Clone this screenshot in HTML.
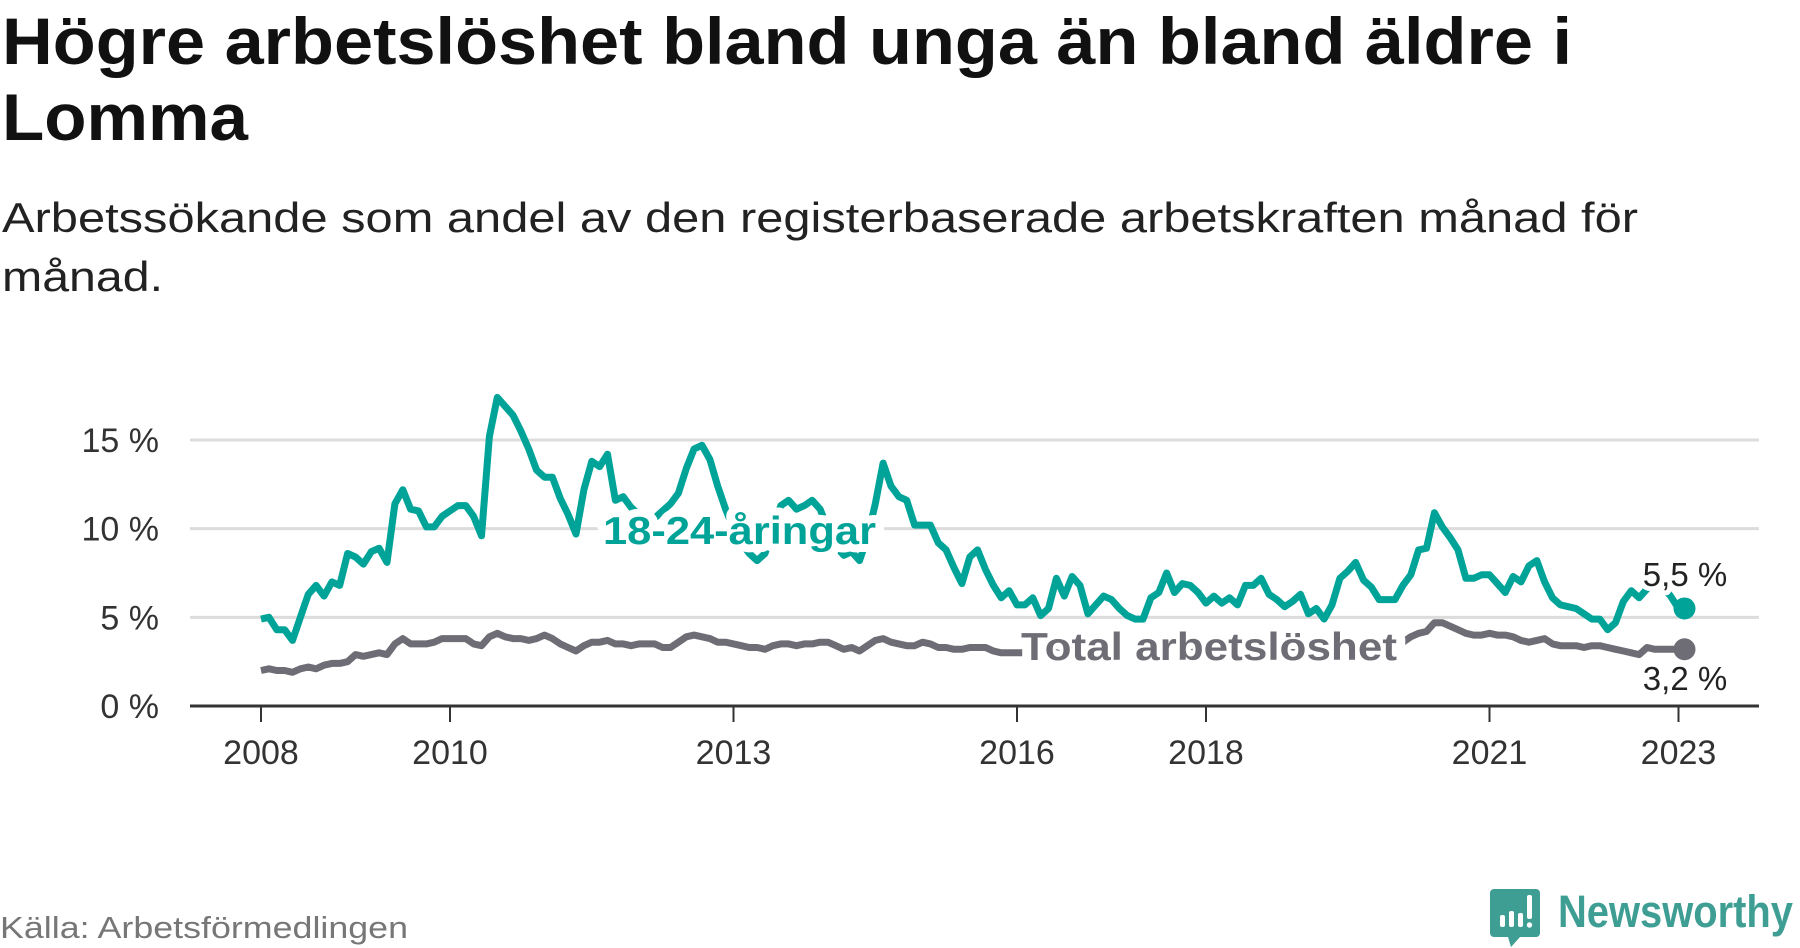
<!DOCTYPE html>
<html><head><meta charset="utf-8"><style>
html,body{margin:0;padding:0;background:#fff;}
svg{display:block;font-family:"Liberation Sans","DejaVu Sans",sans-serif;}
</style></head><body>
<svg id="chart" width="1800" height="948" viewBox="0 0 1800 948" xmlns="http://www.w3.org/2000/svg">
<text x="2" y="64" font-size="66" font-weight="bold" fill="#111" textLength="1570" lengthAdjust="spacingAndGlyphs">Högre arbetslöshet bland unga än bland äldre i</text>
<text x="2" y="140" font-size="66" font-weight="bold" fill="#111" textLength="246" lengthAdjust="spacingAndGlyphs">Lomma</text>
<text x="2" y="232" font-size="42" fill="#222" textLength="1636" lengthAdjust="spacingAndGlyphs">Arbetssökande som andel av den registerbaserade arbetskraften månad för</text>
<text x="2" y="291" font-size="42" fill="#222" textLength="161" lengthAdjust="spacingAndGlyphs">månad.</text>
<g id="grid"></g>
<g id="yticks"></g>
<g id="xticks"></g>
<g id="series"></g>
<text x="0" y="938" font-size="31" fill="#777" textLength="408" lengthAdjust="spacingAndGlyphs">Källa: Arbetsförmedlingen</text>
<g>
<path d="M1494 889 h42 a4 4 0 0 1 4 4 v40 a4 4 0 0 1 -4 4 h-16 l-9 10 l-3 -10 h-14 a4 4 0 0 1 -4 -4 v-40 a4 4 0 0 1 4 -4z" fill="#3f9e93"/>
<rect x="1500" y="915" width="5" height="12" rx="2" fill="#fff"/>
<rect x="1509" y="911" width="5" height="16" rx="2" fill="#fff"/>
<rect x="1518" y="913" width="5" height="14" rx="2" fill="#fff"/>
<rect x="1527" y="895" width="5" height="24" rx="2" fill="#fff"/>
<circle cx="1529.5" cy="925" r="2.7" fill="#fff"/>
<text x="1558" y="927" font-size="45" font-weight="bold" fill="#3f9e93" textLength="235" lengthAdjust="spacingAndGlyphs">Newsworthy</text>
</g>
</svg>
<script>
const youth = [
4.9,5.0,4.3,4.3,3.7,5.0,6.3,6.8,6.2,7.0,6.8,8.6,
8.4,8.0,8.7,8.9,8.1,11.4,12.2,11.1,11.0,10.1,10.1,10.7,
11.0,11.3,11.3,10.7,9.6,15.2,17.4,16.9,16.4,15.5,14.5,13.3,
12.9,12.9,11.7,10.8,9.7,12.2,13.8,13.5,14.2,11.6,11.8,11.2,
10.8,10.5,10.6,11.0,11.4,12.0,13.4,14.5,14.7,13.9,12.4,11.1,
10.0,9.2,8.6,8.2,8.6,10.0,11.3,11.6,11.1,11.3,11.6,11.1,
10.0,9.0,8.5,8.7,8.2,9.5,11.4,13.7,12.4,11.8,11.6,10.2,
10.2,10.2,9.2,8.8,7.8,6.9,8.4,8.8,7.7,6.8,6.1,6.5,
5.7,5.7,6.1,5.1,5.5,7.2,6.2,7.3,6.8,5.2,5.7,6.2,
6.0,5.5,5.1,4.9,4.9,6.1,6.4,7.5,6.4,6.9,6.8,6.4,
5.8,6.2,5.8,6.1,5.7,6.8,6.8,7.2,6.3,6.0,5.6,5.9,
6.3,5.2,5.5,4.9,5.7,7.2,7.6,8.1,7.1,6.7,6.0,6.0,
6.0,6.8,7.4,8.8,8.9,10.9,10.1,9.5,8.8,7.2,7.2,7.4,
7.4,6.9,6.4,7.3,7.0,7.9,8.2,7.0,6.1,5.7,5.6,5.5,
5.2,4.9,4.9,4.3,4.7,5.9,6.5,6.1,6.6,6.9,6.7,6.2,
5.5];
const total = [
2.0,2.1,2.0,2.0,1.9,2.1,2.2,2.1,2.3,2.4,2.4,2.5,
2.9,2.8,2.9,3.0,2.9,3.5,3.8,3.5,3.5,3.5,3.6,3.8,
3.8,3.8,3.8,3.5,3.4,3.9,4.1,3.9,3.8,3.8,3.7,3.8,
4.0,3.8,3.5,3.3,3.1,3.4,3.6,3.6,3.7,3.5,3.5,3.4,
3.5,3.5,3.5,3.3,3.3,3.6,3.9,4.0,3.9,3.8,3.6,3.6,
3.5,3.4,3.3,3.3,3.2,3.4,3.5,3.5,3.4,3.5,3.5,3.6,
3.6,3.4,3.2,3.3,3.1,3.4,3.7,3.8,3.6,3.5,3.4,3.4,
3.6,3.5,3.3,3.3,3.2,3.2,3.3,3.3,3.3,3.1,3.0,3.0,
3.0,3.0,2.9,3.0,3.1,3.0,2.9,3.0,3.0,3.1,3.0,3.0,
3.0,2.9,2.9,3.0,3.0,2.9,2.9,3.0,3.0,3.0,3.1,3.0,
3.0,3.0,3.0,3.0,3.1,3.0,3.0,3.1,3.1,3.1,3.1,3.1,
3.2,3.2,3.2,3.2,3.3,3.3,3.3,3.3,3.4,3.4,3.4,3.5,
3.5,3.6,3.9,4.1,4.2,4.7,4.7,4.5,4.3,4.1,4.0,4.0,
4.1,4.0,4.0,3.9,3.7,3.6,3.7,3.8,3.5,3.4,3.4,3.4,
3.3,3.4,3.4,3.3,3.2,3.1,3.0,2.9,3.3,3.2,3.2,3.2,
3.2];
const startYear = 2008;
const yTicks = [0,5,10,15];
const yTickLabels = ["0 %","5 %","10 %","15 %"];
const xTickYears = [2008,2010,2013,2016,2018,2021,2023];
const seriesNames = ["18-24-åringar","Total arbetslöshet"];

const NS="http://www.w3.org/2000/svg";
const X0=190,X1=1759;
function xOf(year){return 261+(year-2008)*94.5;}
function yOf(v){return 706-v*(706-440)/15;}
function mk(tag,attrs,parent){const e=document.createElementNS(NS,tag);for(const k in attrs)e.setAttribute(k,attrs[k]);parent.appendChild(e);return e;}
const grid=document.getElementById('grid'),yt=document.getElementById('yticks'),xt=document.getElementById('xticks'),ser=document.getElementById('series');
yTicks.forEach((v,i)=>{
  if(v>0){const l=mk('line',{x1:X0,x2:X1,y1:yOf(v),y2:yOf(v),stroke:'#dcdcdc','stroke-width':3},grid);
  
  }
  const t=mk('text',{x:159,y:yOf(v)+12,'font-size':34,fill:'#333','text-anchor':'end'},yt);
  t.textContent=yTickLabels[i];
  
  
});
const ax=mk('line',{x1:X0,x2:X1,y1:yOf(0),y2:yOf(0),stroke:'#333','stroke-width':3},xt);


xTickYears.forEach(y=>{
  const tk=mk('line',{x1:xOf(y),x2:xOf(y),y1:yOf(0),y2:yOf(0)+16,stroke:'#333','stroke-width':2},xt);
  
  
  const t=mk('text',{x:xOf(y),y:764,'font-size':34,fill:'#333','text-anchor':'middle'},xt);
  t.textContent=String(y);
  
  
});
function pathFor(arr){return arr.map((v,i)=>(i?'L':'M')+xOf(startYear+i/12).toFixed(1)+' '+yOf(v).toFixed(1)).join(' ');}
const pT=mk('path',{d:pathFor(total),fill:'none',stroke:'#6e6d75','stroke-width':7,'stroke-linejoin':'round'},ser);


const pY=mk('path',{d:pathFor(youth),fill:'none',stroke:'#00a398','stroke-width':7,'stroke-linejoin':'round'},ser);


const lastI=youth.length-1, lx=xOf(startYear+lastI/12)+6;
const dY=mk('circle',{cx:lx,cy:yOf(youth[lastI]),r:11,fill:'#00a398'},ser);


const dT=mk('circle',{cx:lx,cy:yOf(total[total.length-1]),r:11,fill:'#6e6d75'},ser);


const halo={stroke:'#fff','stroke-width':16,'paint-order':'stroke','stroke-linejoin':'round'};
const l1=mk('text',Object.assign({x:603,y:544,'font-size':39,'font-weight':'bold',fill:'#00a398',textLength:273,lengthAdjust:'spacingAndGlyphs'},halo),ser);
l1.textContent=seriesNames[0];


const l2=mk('text',Object.assign({x:1021,y:660,'font-size':39,'font-weight':'bold',fill:'#6e6d75',textLength:376,lengthAdjust:'spacingAndGlyphs'},halo),ser);
l2.textContent=seriesNames[1];


const halo2={stroke:'#fff','stroke-width':10,'paint-order':'stroke','stroke-linejoin':'round'};
const v1=mk('text',Object.assign({x:1685,y:586,'font-size':33,fill:'#222','text-anchor':'middle'},halo2),ser);
v1.textContent=youth[lastI].toFixed(1).replace('.',',')+' %';


const v2=mk('text',Object.assign({x:1685,y:690,'font-size':33,fill:'#222','text-anchor':'middle'},halo2),ser);
v2.textContent=total[total.length-1].toFixed(1).replace('.',',')+' %';


</script>
</body></html>
